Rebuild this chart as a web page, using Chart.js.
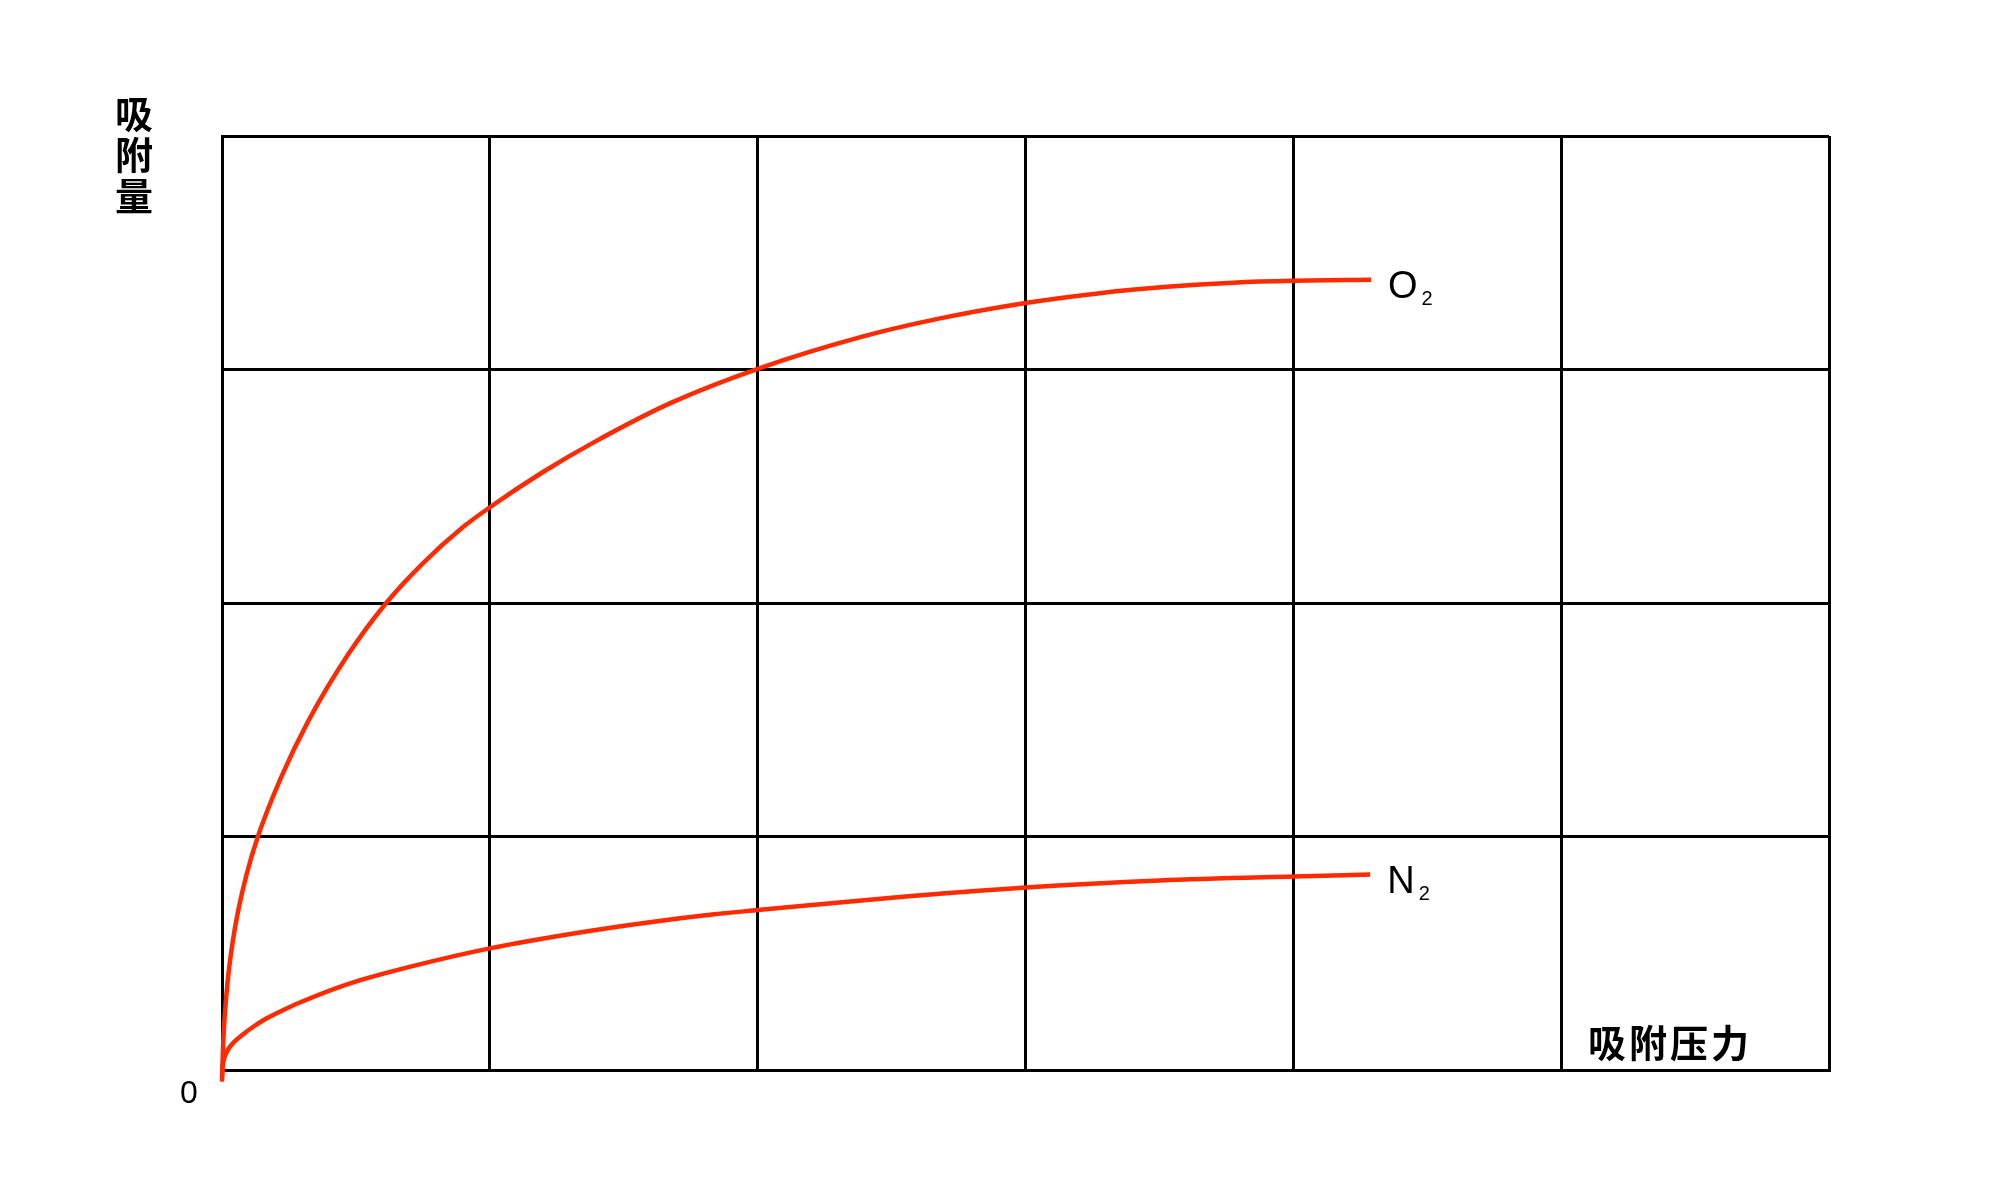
<!DOCTYPE html>
<html>
<head>
<meta charset="utf-8">
<script src="https://cdn.jsdelivr.net/npm/chart.js@4"></script>
<style>
  html, body { margin: 0; padding: 0; background: #fff; }
  #wrap { width: 1994px; height: 1203px; }
</style>
</head>
<body>
<div id="wrap"><canvas id="chart" width="1994" height="1203"></canvas></div>
<script>
/* data */
const o2Pressure = [0, 0.004, 0.01, 0.022, 0.04, 0.06, 0.09, 0.134, 0.221, 0.321, 0.47, 0.613, 0.75, 0.9, 1.0, 1.2, 1.391, 1.678, 2.0, 2.394, 2.681, 3.0, 3.278, 3.527, 3.776, 4.0, 4.29];
const o2Amount   = [-0.05, 0.1, 0.23, 0.39, 0.55, 0.68, 0.83, 1.0, 1.254, 1.492, 1.778, 2.0, 2.17, 2.325, 2.41, 2.562, 2.69, 2.858, 3.003, 3.142, 3.219, 3.285, 3.327, 3.354, 3.372, 3.38, 3.384];

const n2Pressure = [0, 0.002, 0.005, 0.012, 0.025, 0.045, 0.072, 0.11, 0.159, 0.22, 0.284, 0.47, 0.719, 1.0, 1.341, 1.59, 1.838, 2.0, 2.5, 3.0, 3.5, 4.0, 4.287];
const n2Amount   = [-0.03, 0.012, 0.034, 0.063, 0.092, 0.12, 0.147, 0.18, 0.216, 0.252, 0.286, 0.368, 0.447, 0.521, 0.59, 0.632, 0.667, 0.685, 0.738, 0.782, 0.812, 0.829, 0.837];

const seriesNames = [["O", "2"], ["N", "2"]];
const yTitle = "吸附量";
const xTitle = "吸附压力";
const originLabel = "0";
const xMax = 6;
const yMax = 4;

const RED = "#fe2a00";
const LATIN = "'Liberation Sans', Arial, sans-serif";
const CJK = "'Noto Sans CJK SC', sans-serif";

const toPoints = (xs, ys) => xs.map((x, i) => ({ x, y: ys[i] }));

// labels, axis titles and the origin "0"
const textPlugin = {
  id: "texts",
  afterDraw(chart) {
    const { ctx, scales: { x, y } } = chart;
    ctx.save();
    ctx.fillStyle = "#000";

    // series names with subscripts, next to each curve end
    chart.data.datasets.forEach((ds, i) => {
      const last = ds.data[ds.data.length - 1];
      const px = x.getPixelForValue(last.x) + 17;
      const py = y.getPixelForValue(last.y) + 18;
      ctx.font = "38px " + LATIN;
      ctx.textAlign = "left";
      ctx.textBaseline = "alphabetic";
      ctx.fillText(seriesNames[i][0], px, py);
      const w = ctx.measureText(seriesNames[i][0]).width;
      ctx.font = "20px " + LATIN;
      ctx.fillText(seriesNames[i][1], px + w + 4, py + 7);
    });

    // origin
    ctx.font = "32px " + LATIN;
    ctx.textAlign = "center";
    ctx.fillText(originLabel, x.left - 33, y.bottom + 33);

    // vertical y title
    ctx.font = "bold 38px " + CJK;
    ctx.textBaseline = "middle";
    [...yTitle].forEach((ch, i) => {
      ctx.fillText(ch, x.left - 88, y.top - 22 + i * 41);
    });

    // x title inside the last column
    [...xTitle].forEach((ch, i) => {
      ctx.fillText(ch, x.right - 222 + i * 41, y.bottom - 27);
    });
    ctx.restore();
  }
};

new Chart(document.getElementById("chart"), {
  type: "scatter",
  data: {
    datasets: [
      { label: "O2", data: toPoints(o2Pressure, o2Amount) },
      { label: "N2", data: toPoints(n2Pressure, n2Amount) }
    ].map(d => ({
      ...d,
      showLine: true,
      borderColor: RED,
      borderWidth: 4.5,
      pointRadius: 0,
      cubicInterpolationMode: "monotone",
      clip: false
    }))
  },
  options: {
    responsive: false,
    animation: false,
    layout: { padding: { left: 222, right: 165, top: 136, bottom: 133 } },
    plugins: { legend: { display: false }, tooltip: { enabled: false } },
    scales: {
      x: {
        type: "linear", min: 0, max: xMax,
        ticks: { display: false, stepSize: 1 },
        grid: { color: "#000", lineWidth: 3, drawTicks: false },
        border: { color: "#000", width: 3 }
      },
      y: {
        type: "linear", min: 0, max: yMax,
        ticks: { display: false, stepSize: 1 },
        grid: { color: "#000", lineWidth: 3, drawTicks: false },
        border: { color: "#000", width: 3 }
      }
    }
  },
  plugins: [textPlugin]
});
</script>
</body>
</html>
